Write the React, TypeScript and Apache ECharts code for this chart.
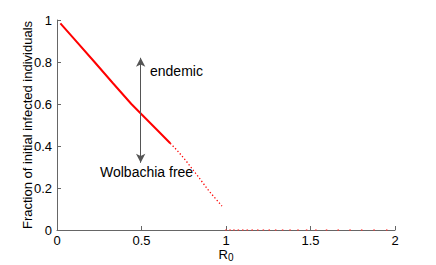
import React, { useEffect, useRef } from "react";
import * as echarts from "echarts";

const xTicks = [0, 0.5, 1, 1.5, 2];
const yTicks = [0, 0.2, 0.4, 0.6, 0.8, 1];

const solidX = [0.02, 0.1, 0.222, 0.33, 0.44, 0.5, 0.6, 0.67];
const solidY = [0.984, 0.911, 0.8, 0.7, 0.6, 0.551, 0.47, 0.413];

const dottedX = [0.67, 0.71, 0.76, 0.83, 0.9, 0.976];
const dottedY = [0.413, 0.38, 0.333, 0.26, 0.185, 0.114];

const zeroX = [1.0, 1.024, 1.047, 1.073, 1.099, 1.126, 1.155, 1.188, 1.221, 1.256, 1.294, 1.335, 1.379, 1.426, 1.477, 1.532, 1.595, 1.664, 1.734, 1.803, 1.876, 1.951];
const zeroY = zeroX.map(() => 0);

const arrowX = 0.495;
const arrowBottom = 0.32;
const arrowTop = 0.82;

const FONT = "Liberation Sans, Arial, Helvetica, sans-serif";

export default function App() {
  const ref = useRef<HTMLDivElement>(null);
  useEffect(() => {
    if (!ref.current) return;
    const chart = echarts.init(ref.current, undefined, { renderer: "svg" });
    chart.setOption({
      animation: false,
      grid: { left: 57, right: 41, top: 20, bottom: 35, outerBoundsMode: "none", containLabel: false },
      xAxis: {
        type: "value",
        min: 0,
        max: 2,
        interval: 0.5,
        name: "{a|R}{b|0}",
        nameLocation: "middle",
        nameGap: 18,
        nameMoveOverlap: false,
        nameTextStyle: {
          verticalAlign: "top",
          rich: {
            a: { fontSize: 13, fontFamily: FONT, color: "#000", lineHeight: 12 },
            b: { fontSize: 10, fontFamily: FONT, color: "#000", lineHeight: 10, padding: [6, 0, 0, 0] },
          },
        },
        axisLine: { lineStyle: { color: "#666", width: 1 } },
        axisTick: { inside: true, length: 4, lineStyle: { color: "#666" } },
        splitLine: { show: false },
        axisLabel: {
          fontSize: 13,
          lineHeight: 12,
          fontFamily: FONT,
          color: "#000",
          margin: 4,
          formatter: (v: number) => (xTicks.includes(v) ? String(v) : ""),
        },
      },
      yAxis: {
        type: "value",
        min: 0,
        max: 1,
        interval: 0.2,
        name: "Fraction of initial infected individuals",
        nameLocation: "middle",
        nameGap: 23,
        nameMoveOverlap: false,
        nameTextStyle: { fontSize: 13, fontFamily: FONT, color: "#000" },
        axisLine: { show: true, lineStyle: { color: "#666", width: 1 } },
        axisTick: { show: true, inside: true, length: 4, lineStyle: { color: "#666" } },
        splitLine: { show: false },
        axisLabel: {
          fontSize: 13,
          fontFamily: FONT,
          color: "#000",
          margin: 5,
          formatter: (v: number) => {
            const t = yTicks.find((y) => Math.abs(y - v) < 1e-9);
            return t === undefined ? "" : String(Math.round(t * 10) / 10);
          },
        },
      },
      series: [
        {
          type: "line",
          data: solidX.map((x, i) => [x, solidY[i]]),
          showSymbol: false,
          smooth: false,
          lineStyle: { color: "#ff0000", width: 2 },
          markLine: {
            silent: true,
            symbol: ["arrow", "arrow"],
            symbolSize: [7, 9],
            label: { show: false },
            lineStyle: { color: "#555", width: 1, type: "solid" },
            data: [[{ coord: [arrowX, arrowBottom] }, { coord: [arrowX, arrowTop] }]],
          },
        },
        {
          type: "line",
          data: dottedX.map((x, i) => [x, dottedY[i]]),
          showSymbol: false,
          smooth: false,
          lineStyle: { color: "#ff0000", width: 1.3, type: [1.3, 2.2] },
        },
        {
          type: "scatter",
          data: zeroX.map((x, i) => [x, zeroY[i]]),
          symbol: "rect",
          symbolSize: [1.5, 1.5],
          itemStyle: { color: "#ff3333" },
        },
      ],
      graphic: [
        {
          type: "text",
          left: 150,
          top: 64,
          style: { text: "endemic", fontSize: 14, fontFamily: FONT, fill: "#000" },
        },
        {
          type: "text",
          left: 100,
          top: 165,
          style: { text: "Wolbachia free", fontSize: 14, fontFamily: FONT, fill: "#000" },
        },
      ],
    });
    return () => chart.dispose();
  }, []);
  return <div ref={ref} style={{ width: 436, height: 265, position: "absolute", left: 0, top: 0 }} />;
}
